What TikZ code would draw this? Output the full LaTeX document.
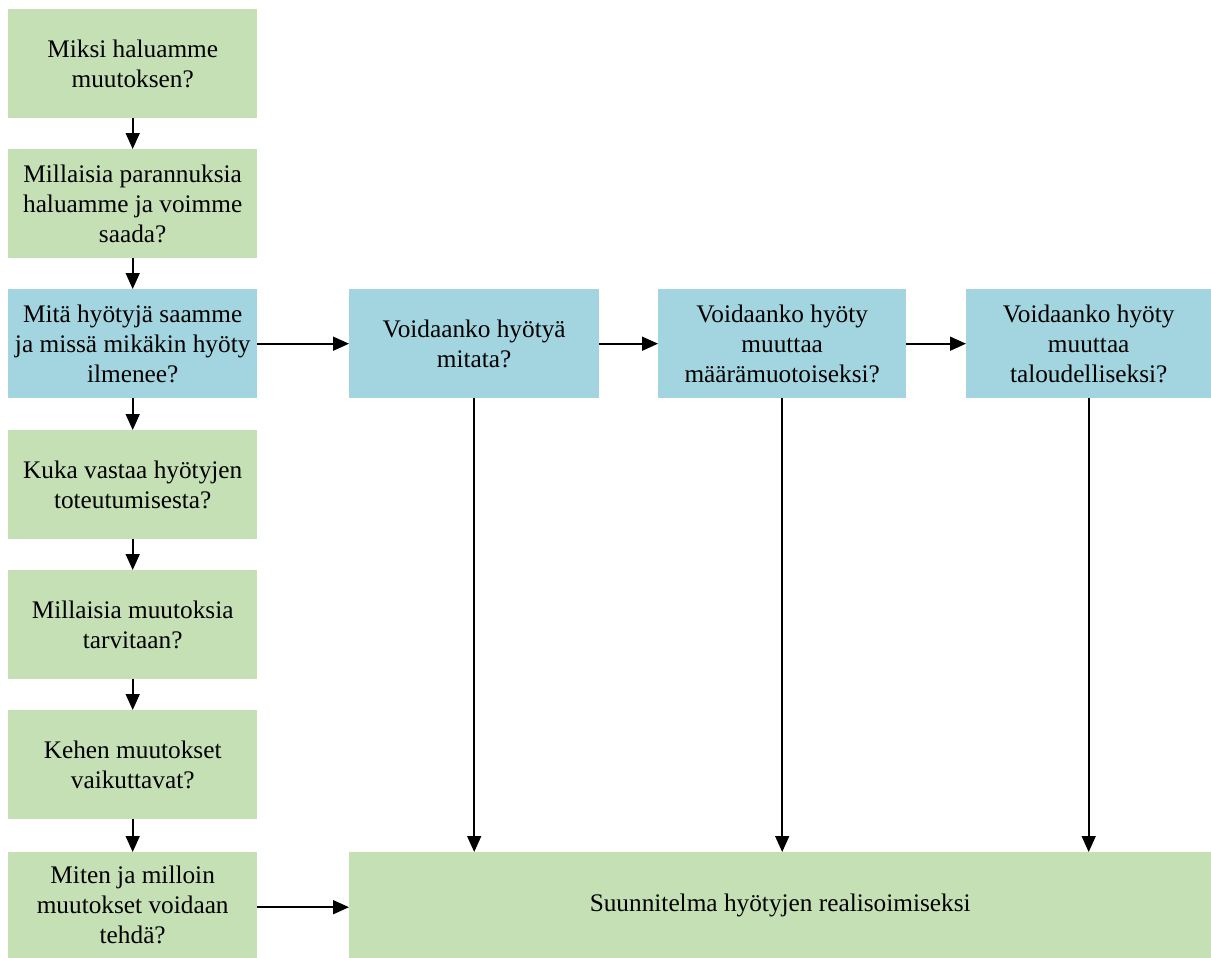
\documentclass[tikz,border=0pt]{standalone}
\usepackage{fontspec}
\setmainfont{Liberation Serif}
\usetikzlibrary{arrows.meta}
\definecolor{boxgreen}{HTML}{C5E0B4}
\definecolor{boxblue}{HTML}{A2D5E0}
\begin{document}
\begin{tikzpicture}[x=1pt,y=-1pt,
  box/.style={rectangle, inner sep=0pt, anchor=north west, align=center,
    minimum width=249pt, minimum height=109pt,
    font=\fontsize{25.3}{30}\selectfont},
  gbox/.style={box, fill=boxgreen},
  bbox/.style={box, fill=boxblue},
  arr/.style={line width=1.6pt, -{Triangle[length=16pt,width=14pt]}}]
\useasboundingbox (0,0) rectangle (1211,958);
% left column
\node[gbox] (b1) at (8,9) {Miksi haluamme\\muutoksen?};
\node[gbox] (b2) at (8,149) {Millaisia parannuksia\\haluamme ja voimme\\saada?};
\node[bbox] (b3) at (8,289) {Mitä hyötyjä saamme\\ja missä mikäkin hyöty\\ilmenee?};
\node[gbox] (b4) at (8,430) {Kuka vastaa hyötyjen\\toteutumisesta?};
\node[gbox] (b5) at (8,570) {Millaisia muutoksia\\tarvitaan?};
\node[gbox] (b6) at (8,710) {Kehen muutokset\\vaikuttavat?};
\node[gbox, minimum height=106pt] (b7) at (8,852) {Miten ja milloin\\muutokset voidaan\\tehdä?};
% top row
\node[bbox, minimum width=250pt] (v1) at (349,289) {Voidaanko hyötyä\\mitata?};
\node[bbox, minimum width=248pt] (v2) at (658,289) {Voidaanko hyöty\\muuttaa\\määrämuotoiseksi?};
\node[bbox, minimum width=245pt] (v3) at (966,289) {Voidaanko hyöty\\muuttaa\\taloudelliseksi?};
% plan
\node[gbox, minimum width=862pt, minimum height=106pt] (plan) at (349,852) {Suunnitelma hyötyjen realisoimiseksi};
% connectors
\draw[arr] (b1) -- (b2);
\draw[arr] (b2) -- (b3);
\draw[arr] (b3) -- (b4);
\draw[arr] (b4) -- (b5);
\draw[arr] (b5) -- (b6);
\draw[arr] (b6) -- (b7);
\draw[arr] (b3) -- (v1);
\draw[arr] (v1) -- (v2);
\draw[arr] (v2) -- (v3);
\draw[arr] (v1.south) -- (v1.south |- plan.north);
\draw[arr] (v2.south) -- (v2.south |- plan.north);
\draw[arr] (v3.south) -- (v3.south |- plan.north);
\draw[arr] ([yshift=-2pt]b7.east) -- ([yshift=-2pt]b7.east -| plan.west);
\end{tikzpicture}
\end{document}
